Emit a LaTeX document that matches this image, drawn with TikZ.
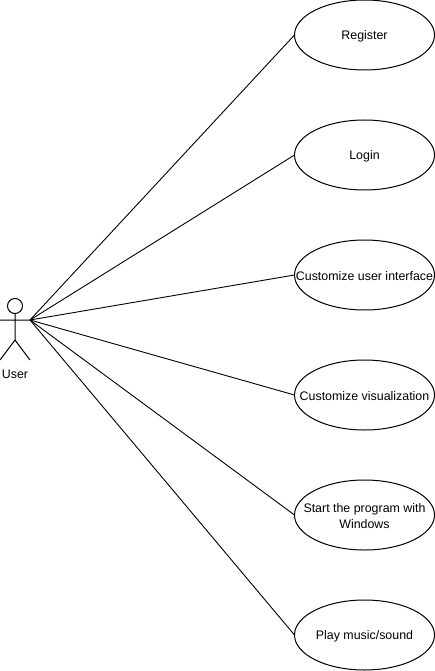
\documentclass[tikz,border=0pt]{standalone}
\usepackage{fontspec}
\setmainfont{Liberation Sans}
\usetikzlibrary{shapes.geometric}
\tikzset{
  usecase/.style={draw=black,line width=1pt,ellipse,minimum width=140pt,minimum height=70pt,inner sep=0pt,outer sep=0pt},
  casetext/.style={inner sep=0pt,align=center,yshift=-1pt,font=\fontsize{12.4}{16}\selectfont},
  link/.style={draw=black,line width=0.9pt},
  actorline/.style={draw=black,line width=1pt},
  lbl/.style={inner sep=0pt,font=\fontsize{12.4}{14}\selectfont}
}
\begin{document}
\begin{tikzpicture}[x=1pt,y=-1pt]
\useasboundingbox (0,0) rectangle (435,671);
\node[usecase] (register) at (364.5,35) {};
\node[usecase] (login) at (364.5,155) {};
\node[usecase] (ui) at (364.5,275) {};
\node[usecase] (vis) at (364.5,395) {};
\node[usecase] (start) at (364.5,515) {};
\node[usecase] (play) at (364.5,635) {};
\node[casetext] (registertext) at (register) {Register};
\node[casetext] (logintext) at (login) {Login};
\node[casetext] (uitext) at (ui) {Customize user interface};
\node[casetext] (vistext) at (vis) {Customize visualization};
\node[casetext] (starttext) at (start) {Start the program with\\Windows};
\node[casetext] (playtext) at (play) {Play music/sound};
% actor
\coordinate (hand) at (30,320);
\coordinate (handl) at (0,320);
\coordinate (neck) at (15,313.5);
\coordinate (hip) at (15,340);
\coordinate (footl) at (0,360);
\coordinate (footr) at (30,360);
\draw[actorline] (15,306) circle (7.5);
\draw[actorline] (neck) -- (hip) (handl) -- (hand) (footl) -- (hip) -- (footr);
\node[lbl] (user) at (15,374) {User};
\foreach \t in {register,login,ui,vis,start,play}
  \draw[link] (hand) -- (\t.west);
\end{tikzpicture}
\end{document}
